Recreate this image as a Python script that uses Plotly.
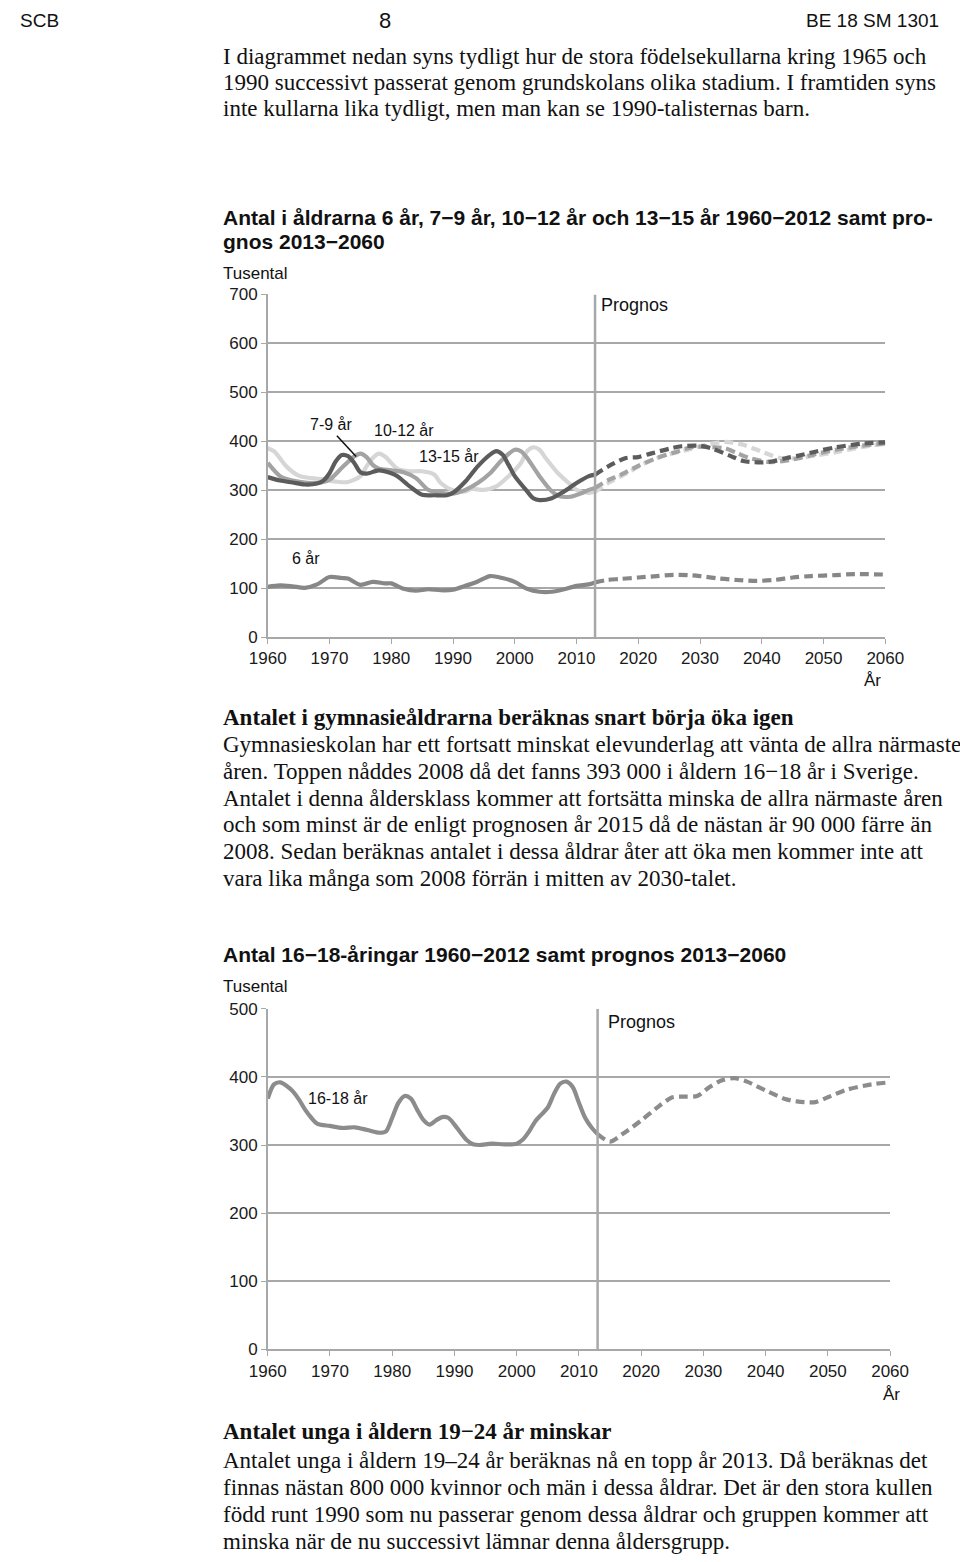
import plotly.graph_objects as go

W, H = 960, 1562

# ---------------- data: chart 1 (Tusental) ----------------
y79_hist_years = [1960,1962,1964,1966,1968,1969,1970,1971,1972,1973,1974,1975,1976,1978,1980,1981,1983,1985,1987,1989,1990,1992,1994,1996,1997,1998,1999,2000,2002,2003,2004,2006,2008,2010,2012,2013]
y79_hist_vals  = [327,320,316,312,314,320,335,359,372,370,356,337,334,341,335,329,308,291,290,290,295,318,349,373,380,373,352,329,298,284,280,284,298,315,329,332]
y79_prog_years = [2013,2015,2018,2020,2022,2025,2027,2030,2032,2035,2037,2040,2042,2044,2046,2049,2052,2056,2060]
y79_prog_vals  = [332,348,366,368,375,385,390,391,385,370,360,357,360,366,371,380,388,395,398]

y1012_hist_years = [1960,1962,1964,1966,1968,1970,1972,1974,1975,1976,1977,1978,1980,1982,1984,1986,1988,1990,1992,1994,1996,1998,2000,2001,2002,2004,2006,2007,2009,2011,2012,2013]
y1012_hist_vals  = [356,329,320,316,315,322,346,369,375,368,352,344,341,337,325,301,295,293,301,315,335,363,383,380,366,329,298,289,287,295,301,305]
y1012_prog_years = [2013,2015,2017,2020,2023,2026,2029,2032,2034,2036,2038,2041,2043,2045,2048,2052,2056,2060]
y1012_prog_vals  = [305,320,331,350,366,378,389,388,386,376,366,358,359,363,372,383,391,396]

y1315_hist_years = [1960,1961,1963,1965,1967,1969,1971,1973,1975,1976,1977,1978,1979,1980,1981,1983,1985,1987,1988,1990,1992,1993,1995,1997,1999,2001,2002,2003,2004,2005,2007,2009,2010,2012,2013]
y1315_hist_vals  = [386,380,349,330,325,322,318,317,329,349,366,375,369,356,344,339,339,332,315,300,298,303,301,308,329,356,380,388,383,366,335,312,301,295,297]
y1315_prog_years = [2013,2015,2018,2021,2024,2028,2031,2034,2037,2040,2043,2046,2049,2052,2056,2060]
y1315_prog_vals  = [297,314,334,355,370,383,393,399,393,379,366,366,372,378,388,395]

y6_hist_years = [1960,1962,1964,1966,1968,1970,1972,1973,1975,1977,1979,1980,1982,1984,1986,1988,1990,1992,1994,1996,1998,2000,2002,2004,2006,2008,2010,2012,2013]
y6_hist_vals  = [103,106,104,101,108,123,121,120,107,113,110,110,99,95,98,96,97,105,114,125,121,113,99,93,93,98,105,108,112]
y6_prog_years = [2013,2015,2017,2020,2023,2025,2028,2030,2033,2036,2039,2042,2045,2048,2052,2055,2060]
y6_prog_vals  = [112,117,119,122,125,127,127,125,120,117,115,117,122,125,127,129,128]

# ---------------- data: chart 2 (16-18 år) ----------------
y1618_hist_years = [1960,1961,1962,1963,1964,1965,1966,1967,1968,1970,1972,1974,1976,1978,1979,1980,1981,1982,1983,1984,1985,1986,1987,1988,1989,1990,1991,1992,1993,1994,1996,1998,2000,2001,2002,2003,2004,2005,2006,2007,2008,2009,2010,2011,2012,2013]
y1618_hist_vals  = [368,389,392,387,379,367,352,340,331,328,325,326,322,318,320,340,362,372,368,352,337,330,336,341,340,330,318,307,301,300,302,301,302,308,320,335,345,355,375,390,393,385,362,340,326,316]
y1618_prog_years = [2013,2015,2017,2020,2023,2025,2027,2029,2031,2033,2035,2037,2040,2043,2045,2048,2050,2053,2057,2060]
y1618_prog_vals  = [316,305,316,336,358,370,371,372,385,395,398,393,380,368,364,363,370,381,389,392]

x_ticks = [1960,1970,1980,1990,2000,2010,2020,2030,2040,2050,2060]
y1_ticks = [0,100,200,300,400,500,600,700]
y2_ticks = [0,100,200,300,400,500]
prognos_year = 2013

# ---------------- layout helpers ----------------
def px(x):
    return x / W

def py(y):
    return 1 - y / H

SANS = "Liberation Sans, Arial, sans-serif"
SERIF = "Liberation Serif, Times New Roman, serif"
GRID = "#a8a8a8"

fig = go.Figure()

def add_line(xs, ys, color, dash, xa, ya, width=4.2):
    fig.add_trace(go.Scatter(
        x=xs, y=ys, mode="lines", xaxis=xa, yaxis=ya,
        line=dict(color=color, width=width, dash=dash, shape="spline", smoothing=0.8),
        hoverinfo="skip", showlegend=False))

C6, C79, C1012, C1315, C1618 = "#878787", "#5c5c5c", "#a3a3a3", "#d6d6d6", "#8c8c8c"
DASH = "9px,5px"

add_line(y1315_hist_years, y1315_hist_vals, C1315, "solid", "x", "y")
add_line(y1012_hist_years, y1012_hist_vals, C1012, "solid", "x", "y")
add_line(y79_hist_years, y79_hist_vals, C79, "solid", "x", "y")
add_line(y1315_prog_years, y1315_prog_vals, C1315, DASH, "x", "y")
add_line(y1012_prog_years, y1012_prog_vals, C1012, DASH, "x", "y")
add_line(y79_prog_years, y79_prog_vals, C79, DASH, "x", "y")
add_line(y6_hist_years, y6_hist_vals, C6, "solid", "x", "y")
add_line(y6_prog_years, y6_prog_vals, C6, DASH, "x", "y")

add_line(y1618_hist_years, y1618_hist_vals, C1618, "solid", "x2", "y2")
add_line(y1618_prog_years, y1618_prog_vals, C1618, DASH, "x2", "y2")

axis_common = dict(showline=True, linecolor=GRID, linewidth=1.5, ticks="outside",
                   tickcolor=GRID, ticklen=5, tickwidth=1.2,
                   tickfont=dict(family=SANS, size=17, color="#1a1a1a"), zeroline=False)

fig.update_layout(
    width=W, height=H, margin=dict(l=0, r=0, t=0, b=0),
    paper_bgcolor="white", plot_bgcolor="white", showlegend=False,
    xaxis=dict(domain=[px(259), px(902)], range=[1960, 2060], anchor="y",
               tickvals=x_ticks, showgrid=False, **axis_common),
    yaxis=dict(domain=[py(636), py(289)], range=[0, 700], anchor="x",
               tickvals=y1_ticks, showgrid=True, gridcolor=GRID, gridwidth=1.5, **axis_common),
    xaxis2=dict(domain=[px(259), px(907)], range=[1960, 2060], anchor="y2",
                tickvals=x_ticks, showgrid=False, **axis_common),
    yaxis2=dict(domain=[py(1357), py(1012)], range=[0, 500], anchor="x2",
                tickvals=y2_ticks, showgrid=True, gridcolor=GRID, gridwidth=1.5, **axis_common),
)

# Prognos vertical lines and 7-9 pointer
fig.add_shape(type="line", xref="x", yref="y", x0=prognos_year, x1=prognos_year, y0=0, y1=700,
              line=dict(color=GRID, width=2.5))
fig.add_shape(type="line", xref="x2", yref="y2", x0=prognos_year, x1=prognos_year, y0=0, y1=500,
              line=dict(color=GRID, width=2.5))
fig.add_shape(type="line", xref="paper", yref="paper", x0=px(331), y0=py(432), x1=px(351), y1=py(453),
              line=dict(color="#111111", width=1.5))

def text(x, y, s, size, family=SANS, anchor="left", bold=False, color="#111111"):
    if bold:
        s = "<b>" + s + "</b>"
    fig.add_annotation(x=px(x), y=py(y), xref="paper", yref="paper", text=s, showarrow=False,
                       xanchor=anchor, yanchor="middle", borderpad=0,
                       font=dict(family=family, size=size, color=color))

# header
text(0, 12, "SCB", 19)
text(381, 12, "8", 22, anchor="center")
text(959, 12, "BE 18 SM 1301", 19, anchor="right")

BODY = 23
# paragraph 1
p1 = ["I diagrammet nedan syns tydligt hur de stora födelsekullarna kring 1965 och",
      "1990 successivt passerat genom grundskolans olika stadium. I framtiden syns",
      "inte kullarna lika tydligt, men man kan se 1990-talisternas barn."]
for i, s in enumerate(p1):
    text(211, 48 + i * 26.6, s, BODY, SERIF)

TITLE = 21
# chart 1 texts
text(211, 211, "Antal i åldrarna 6 år, 7−9 år, 10−12 år och 13−15 år 1960−2012 samt pro-", TITLE, bold=True)
text(211, 235, "gnos 2013−2060", TITLE, bold=True)
text(211, 268, "Tusental", 17)
text(605, 300, "Prognos", 18)
text(302, 421, "7-9 år", 16)
text(369, 427, "10-12 år", 16)
text(415, 453, "13-15 år", 16)
text(283, 556, "6 år", 16)
text(889, 680, "År", 17, anchor="center")

# paragraph 2
text(211, 717, "Antalet i gymnasieåldrarna beräknas snart börja öka igen", BODY, SERIF, bold=True)
p2 = ["Gymnasieskolan har ett fortsatt minskat elevunderlag att vänta de allra närmaste",
      "åren. Toppen nåddes 2008 då det fanns 393 000 i åldern 16−18 år i Sverige.",
      "Antalet i denna åldersklass kommer att fortsätta minska de allra närmaste åren",
      "och som minst är de enligt prognosen år 2015 då de nästan är 90 000 färre än",
      "2008. Sedan beräknas antalet i dessa åldrar åter att öka men kommer inte att",
      "vara lika många som 2008 förrän i mitten av 2030-talet."]
for i, s in enumerate(p2):
    text(211, 745 + i * 27, s, BODY, SERIF)

# chart 2 texts
text(211, 957, "Antal 16−18-åringar 1960−2012 samt prognos 2013−2060", TITLE, bold=True)
text(211, 990, "Tusental", 17)
text(612, 1025, "Prognos", 18)
text(300, 1103, "16-18 år", 16)
text(908, 1403, "År", 17, anchor="center")

# paragraph 3
text(211, 1440, "Antalet unga i åldern 19−24 år minskar", BODY, SERIF, bold=True)
p3 = ["Antalet unga i åldern 19–24 år beräknas nå en topp år 2013. Då beräknas det",
      "finnas nästan 800 000 kvinnor och män i dessa åldrar. Det är den stora kullen",
      "född runt 1990 som nu passerar genom dessa åldrar och gruppen kommer att",
      "minska när de nu successivt lämnar denna åldersgrupp."]
for i, s in enumerate(p3):
    text(211, 1469 + i * 27.3, s, BODY, SERIF)

fig.write_html("out.html", config={"displayModeBar": False},
               post_script="document.body.style.margin='0';document.body.style.overflow='hidden';")
